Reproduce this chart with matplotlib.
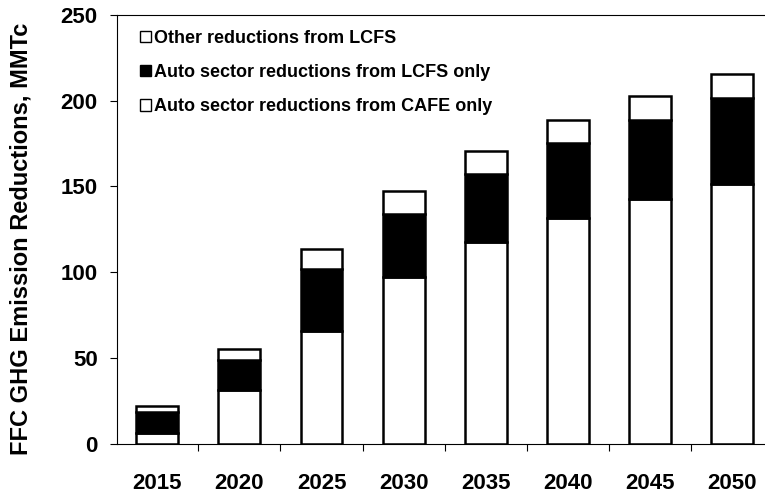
# 目标：堆叠柱状图，FFC GHG 减排量（MMTc）

import numpy as np
import matplotlib.pyplot as plt
from matplotlib.patches import Patch

# 数据
years = ['2015', '2020', '2025', '2030', '2035', '2040', '2045', '2050']
cafe_only = [6.5, 31.5, 66, 97, 117.5, 131.5, 142.5, 151.5]      # 白色底部
lcfs_auto_top = [18.5, 49, 102, 134, 157.5, 175.5, 188.5, 201.5]  # 黑色顶部
total = [22.3, 55, 113.5, 147.5, 170.5, 188.5, 202.5, 215.5]      # 整体高度

lcfs_auto = np.array(lcfs_auto_top) - np.array(cafe_only)
other = np.array(total) - np.array(lcfs_auto_top)

plt.rcParams['font.family'] = ['Liberation Sans', 'DejaVu Sans']
plt.rcParams['font.weight'] = 'bold'

fig = plt.figure(figsize=(7.65, 4.97), dpi=100)
ax = fig.add_axes([0.153, 0.107, 0.846, 0.863])

x = np.arange(len(years))
w = 0.51
ax.bar(x, cafe_only, w, color='white', edgecolor='black', linewidth=1.8)
ax.bar(x, lcfs_auto, w, bottom=cafe_only, color='black', edgecolor='black', linewidth=1.8)
ax.bar(x, other, w, bottom=lcfs_auto_top, color='white', edgecolor='black', linewidth=1.8)

ax.set_xlim(-0.49, 7.39)
ax.set_ylim(0, 250)
ax.set_yticks(range(0, 251, 50))
ax.tick_params(axis='y', labelsize=16, length=5, width=0.8, pad=9)

ax.set_xticks(x)
ax.set_xticklabels(years, fontsize=16)
ax.tick_params(axis='x', length=0, pad=21)
ax.set_xticks(x[:-1] + 0.5, minor=True)
ax.tick_params(axis='x', which='minor', length=5, width=0.8)

ax.spines['right'].set_visible(False)
for s in ['left', 'bottom', 'top']:
    ax.spines[s].set_linewidth(0.8)

ax.set_ylabel('FFC GHG Emission Reductions, MMTc', fontsize=17, fontweight='bold')
ax.yaxis.set_label_coords(-0.13, 0.478)

handles = [Patch(facecolor='white', edgecolor='black'),
           Patch(facecolor='black', edgecolor='black'),
           Patch(facecolor='white', edgecolor='black')]
labels = ['Other reductions from LCFS',
          'Auto sector reductions from LCFS only',
          'Auto sector reductions from CAFE only']
ax.legend(handles, labels, loc='upper left', bbox_to_anchor=(0.01, 1.003), frameon=False,
          handlelength=0.6, handleheight=0.6, handletextpad=0.2,
          labelspacing=0.95, prop={'weight': 'bold', 'size': 13})

plt.savefig('out.png', dpi=100)
